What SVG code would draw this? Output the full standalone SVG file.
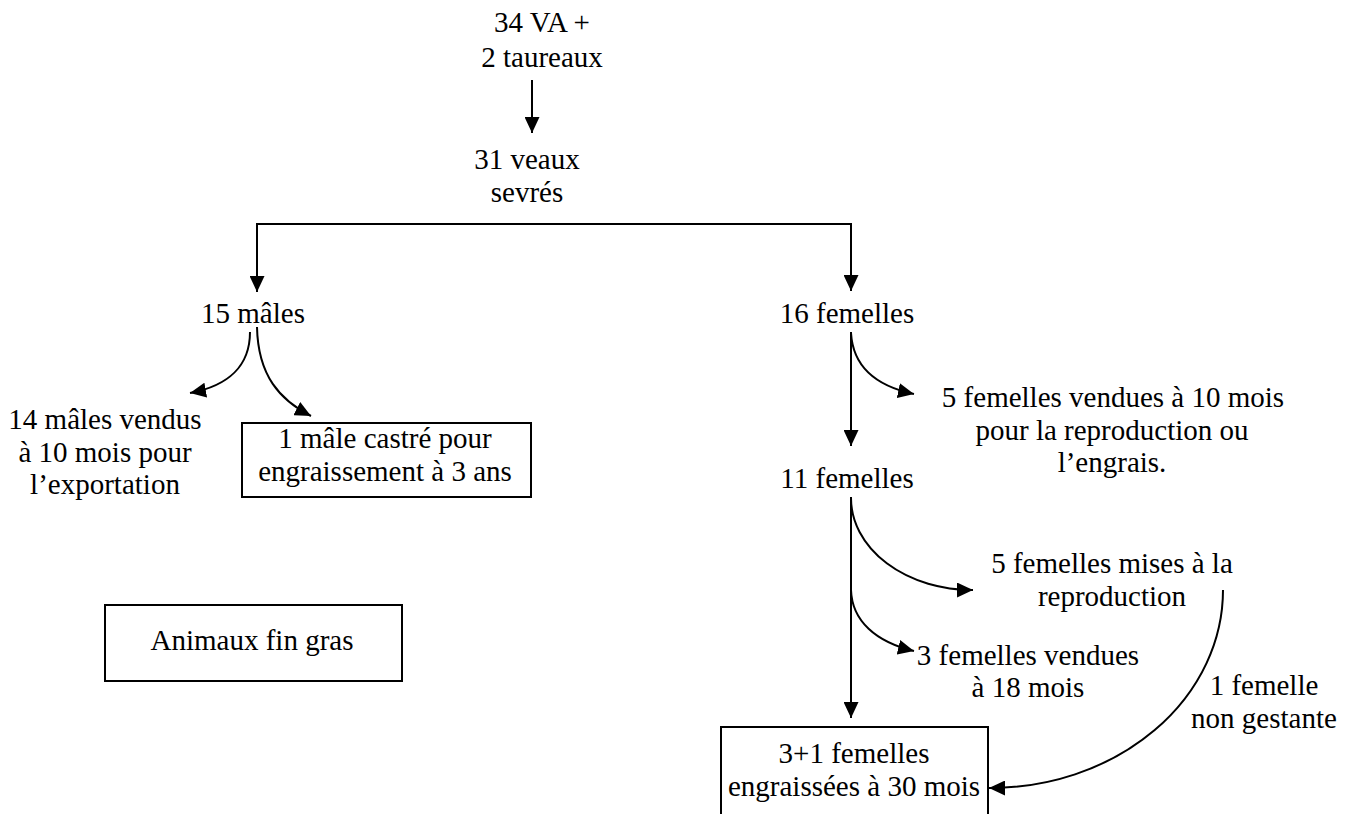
<svg xmlns="http://www.w3.org/2000/svg" width="1355" height="814" viewBox="0 0 1355 814">
<style>
text{font-family:'Liberation Serif','Tinos','Times New Roman','DejaVu Serif',serif;font-size:29px;fill:#000;text-anchor:middle}
.box{fill:#fff;stroke:#000;stroke-width:2}
.c{fill:none;stroke:#000;stroke-width:2}
</style>
<defs>
<marker id="ah" markerUnits="userSpaceOnUse" markerWidth="17" markerHeight="15" refX="16" refY="7.5" orient="auto" viewBox="0 0 17 15">
<path d="M0,0 L16,7.5 L0,15 z" fill="#000"/>
</marker>
</defs>
<rect width="1355" height="814" fill="#fff"/>
<g id="connectors">
<path class="c" d="M532,80 V133" marker-end="url(#ah)"/>
<path class="c" d="M257,224 H851"/>
<path class="c" d="M257,223 V292" marker-end="url(#ah)"/>
<path class="c" d="M851,223 V291" marker-end="url(#ah)"/>
<path class="c" d="M250,332 C250,366 228,386 190,393" marker-end="url(#ah)"/>
<path class="c" d="M257,327 C258,376 280,400 311,416" marker-end="url(#ah)"/>
<path class="c" d="M851,332 V446" marker-end="url(#ah)"/>
<path class="c" d="M851,333 C853,366 876,386 914,394" marker-end="url(#ah)"/>
<path class="c" d="M851,497 V718" marker-end="url(#ah)"/>
<path class="c" d="M851,498 A121,92 0 0 0 973,590" marker-end="url(#ah)"/>
<path class="c" d="M851,590 C852,621 876,642 914,651" marker-end="url(#ah)"/>
<path class="c" d="M1223,590 A233,198 0 0 1 989,788" marker-end="url(#ah)"/>
</g>
<g font-family="Liberation Serif, Times New Roman, serif">
<g id="n-start">
<text x="542" y="32">34 VA +</text>
<text x="542" y="67">2 taureaux</text>
</g>
<g id="n-veaux">
<text x="527" y="169">31 veaux</text>
<text x="527" y="202">sevrés</text>
</g>
<g id="n-males">
<text x="253" y="323">15 mâles</text>
</g>
<g id="n-femelles16">
<text x="847" y="323">16 femelles</text>
</g>
<g id="n-males-vendus">
<text x="105" y="429">14 mâles vendus</text>
<text x="105" y="462">à 10 mois pour</text>
<text x="105" y="494">l’exportation</text>
</g>
<g id="n-male-castre">
<rect class="box" x="242" y="423" width="289" height="74"/>
<text x="385" y="448">1 mâle castré pour</text>
<text x="385" y="481">engraissement à 3 ans</text>
</g>
<g id="n-femelles-vendues10">
<text x="1113" y="407">5 femelles vendues à 10 mois</text>
<text x="1112" y="440">pour la reproduction ou</text>
<text x="1112" y="472">l’engrais.</text>
</g>
<g id="n-femelles11">
<text x="847" y="488">11 femelles</text>
</g>
<g id="n-mises">
<text x="1112" y="573">5 femelles mises à la</text>
<text x="1112" y="606">reproduction</text>
</g>
<g id="n-vendues18">
<text x="1028" y="665">3 femelles vendues</text>
<text x="1028" y="697">à 18 mois</text>
</g>
<g id="n-non-gestante">
<text x="1264" y="695">1 femelle</text>
<text x="1264" y="728">non gestante</text>
</g>
<g id="n-engraissees">
<rect class="box" x="721" y="727" width="267" height="100"/>
<text x="854" y="763">3+1 femelles</text>
<text x="854" y="796">engraissées à 30 mois</text>
</g>
<g id="n-legend">
<rect class="box" x="105" y="605" width="297" height="76"/>
<text x="252" y="650">Animaux fin gras</text>
</g>
</g>
</svg>
